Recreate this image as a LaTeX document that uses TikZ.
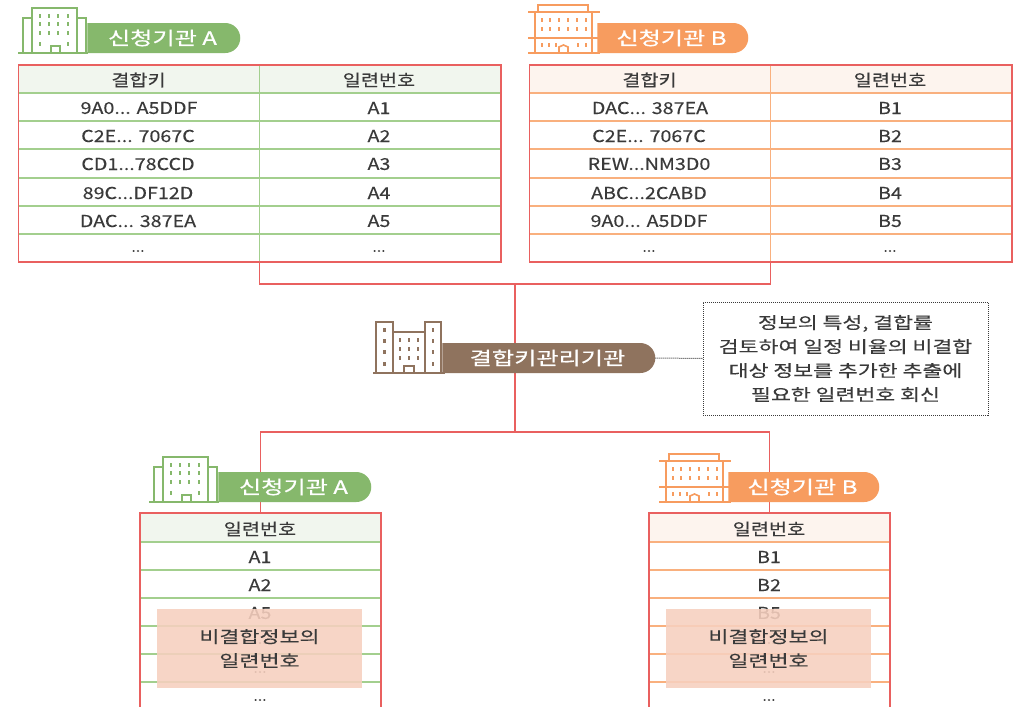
\documentclass[tikz,border=0pt]{standalone}
\usepackage{fontspec}
\setmainfont[FakeStretch=1.2,FakeBold=0.25]{Noto Sans CJK KR}
\newfontfamily\krwide[FakeStretch=1.32,FakeBold=0.25]{Noto Sans CJK KR}
\newfontfamily\krbadge[FakeStretch=1.32,FakeBold=0.7]{Noto Sans CJK KR}
\usetikzlibrary{shapes.misc}
\definecolor{redL}{HTML}{E9605F}
\definecolor{grn}{HTML}{86B86C}
\definecolor{grnL}{HTML}{A3CF8E}
\definecolor{grnH}{HTML}{F1F6EE}
\definecolor{org}{HTML}{F79C5F}
\definecolor{orgL}{HTML}{F9B07E}
\definecolor{orgH}{HTML}{FDF4EE}
\definecolor{brn}{HTML}{8F735E}
\definecolor{ink}{HTML}{3A3A3A}
\definecolor{ovl}{HTML}{F7D0BF}
\tikzset{
  x=1pt,y=-1pt,
  cell/.style={text=ink,font=\fontsize{16.4}{18}\selectfont,inner sep=0pt},
  frame/.style={inner sep=0pt,draw=none},
  conn/.style={draw=redL,line width=1.6pt},
  badge/.style={rounded rectangle,rounded rectangle west arc=none,minimum height=30pt,inner sep=0pt,text=white,font=\krbadge\fontsize{18.3}{20}\selectfont},
  overlay/.style={fill=ovl,fill opacity=.88,text opacity=1,inner sep=0pt,minimum width=205pt,minimum height=79pt,text=ink,align=center,font=\krwide\fontsize{16.5}{24}\selectfont},
  dots/.style={cell,font=\fontsize{13}{12}\selectfont},
  note/.style={draw=ink,densely dotted,line width=1pt,minimum width=285pt,minimum height=113pt,inner sep=0pt,align=center,text=ink,font=\krwide\fontsize{16.4}{24}\selectfont},
}
\newcommand{\bigtable}[9]{%
  \fill[#3] (#1,65) rectangle +(482,28);
  \foreach \yy in {93,121,149,178,206,234}{\draw[#2,line width=1.1pt] (#1,\yy) -- +(482,0);}
  \draw[#2,line width=1.3pt] (#1+241.5,65) -- (#1+241.5,262);
  \node[frame,minimum width=482pt,minimum height=197pt] (#4) at (#1+241.5,163.5) {};
  \draw[conn] (#4.north west) rectangle (#4.south east);
  \node[cell] (#4k0) at (#1+120.5,80) {결합키};
  \node[cell] (#4s0) at (#1+361,80) {일련번호};
  \node[cell] (#4k1) at (#1+121,108) {#5};
  \node[cell] (#4k2) at (#1+120,136) {#6};
  \node[cell] (#4k3) at (#1+120,164) {#7};
  \node[cell] (#4k4) at (#1+120,193) {#8};
  \node[cell] (#4k5) at (#1+120,221) {#9};
  \node[dots] (#4k6) at (#1+120,251) {...};
  \node[dots] (#4s6) at (#1+361,251) {...};
}
\newcommand{\smalltable}[5]{%
  \fill[#3] (#1,513) rectangle +(241,29);
  \foreach \yy in {542,570,598,626,654,682}{\draw[#2,line width=1.1pt] (#1,\yy) -- +(241,0);}
  \node[frame,minimum width=241pt,minimum height=194pt] (#4) at (#1+120.5,610) {};
  \draw[conn] (#4.south west) -- (#4.north west) -- (#4.north east) -- (#4.south east);
  \node[cell] (#4h) at (#1+120,529) {일련번호};
  \node[cell] (#4a) at (#1+120,557) {#51};
  \node[cell] (#4b) at (#1+120,585) {#52};
  \node[cell] (#4c) at (#1+120,613) {#55};
  \node[dots] (#4d) at (#1+120,643) {...};
  \node[dots] (#4e) at (#1+120,672) {...};
  \node[dots] (#4f) at (#1+120,700) {...};
  \node[overlay] (#4o) at (#1+119.5,648.5) {비결합정보의\\일련번호};
}
\newcommand{\wins}[3]{\foreach \wx in {#1}{\foreach \wy in {#2}{\fill[#3] (\wx-1.3,\wy-2.2) rectangle (\wx+1.3,\wy+2.2);}}}
\newcommand{\greenicon}[2]{\begin{scope}[shift={(#1,#2)},draw=grn,line width=2pt]
  \draw (32,53) -- (32,8) -- (77,8) -- (77,53);
  \draw (32,18) -- (23,18) -- (23,53);
  \draw (77,18) -- (86,18) -- (86,53);
  \draw (18,53) -- (88,53);
  \wins{40,49,58,68}{16,24,33}{grn}
  \wins{40,68}{44}{grn}
  \draw[line width=1.6pt] (51,53) -- (51,46) -- (60,46) -- (60,53);
\end{scope}}
\newcommand{\orangeicon}[2]{\begin{scope}[shift={(#1,#2)},draw=org,line width=2pt]
  \draw (538,12) -- (538,5) -- (588,5) -- (588,12);
  \draw (528,12) -- (600,12);
  \draw (535,12) -- (535,53);
  \draw (592,12) -- (592,53);
  \draw (528,38) -- (600,38);
  \draw (528,53) -- (600,53);
  \wins{542,550,559,568,577,586}{20,29}{org}
  \wins{542,549,556,578,586}{45}{org}
  \draw[line width=1.6pt] (559,53) -- (559,47) -- (563.5,45) -- (568,47) -- (568,53);
\end{scope}}
\begin{document}
\begin{tikzpicture}
\useasboundingbox (0,0) rectangle (1013,707);
\fill[white] (0,0) rectangle (1013,707);
\bigtable{18}{grnL}{grnH}{ta}{9A0... A5DDF}{C2E... 7067C}{CD1...78CCD}{89C...DF12D}{DAC... 387EA}
\bigtable{529}{orgL}{orgH}{tb}{DAC... 387EA}{C2E... 7067C}{REW...NM3D0}{ABC...2CABD}{9A0... A5DDF}
\foreach \nm/\xx/\pp in {ta/18/A,tb/529/B}{
  \foreach \i/\yy in {1/108,2/136,3/164,4/193,5/221}{
    \node[cell] (\nm s\i) at (\xx+361,\yy) {\pp\i};
  }
}
\coordinate (hubT) at (515,284);
\coordinate (hubB) at (515,432);
\smalltable{140}{grnL}{grnH}{tc}{A}
\smalltable{649}{orgL}{orgH}{td}{B}
\draw[conn] (ta.south) |- (hubT) -| (tb.south);
\draw[conn] (hubT) -- (hubB);
\draw[conn] (hubB) -| (tc.north);
\draw[conn] (hubB) -| (td.north);
\greenicon{0}{0}
\node[badge,fill=grn,minimum width=153pt] (ba) at (162.5,38) {신청기관 A};
\orangeicon{0}{0}
\node[badge,fill=org,minimum width=151pt] (bb) at (671.5,38) {신청기관 B};
\greenicon{131}{449}
\node[badge,fill=grn,minimum width=153pt] (bc) at (293.5,487) {신청기관 A};
\orangeicon{131}{449}
\node[badge,fill=org,minimum width=151pt] (bd) at (802.5,487) {신청기관 B};
\begin{scope}[draw=brn,line width=2pt]
  \draw (376,373) -- (376,322) -- (393,322) -- (393,373);
  \draw (393,332) -- (425,332);
  \draw (425,373) -- (425,322) -- (441,322) -- (441,373);
  \draw (373,373) -- (445,373);
  \wins{384.5,433}{330,341,352,364}{brn}
  \wins{400,409,418}{340,349,358}{brn}
  \draw[line width=1.6pt] (404,373) -- (404,366) -- (414,366) -- (414,373);
\end{scope}
\node[badge,fill=brn,minimum width=213pt] (bm) at (547.5,358) {결합키관리기관};
\node[note] (nt) at (845.5,358.5) {정보의 특성, 결합률\\검토하여 일정 비율의 비결합\\대상 정보를 추가한 추출에\\필요한 일련번호 회신};
\draw[draw=ink,densely dotted,line width=1pt] (bm.east) -- (nt.west);
\end{tikzpicture}
\end{document}
